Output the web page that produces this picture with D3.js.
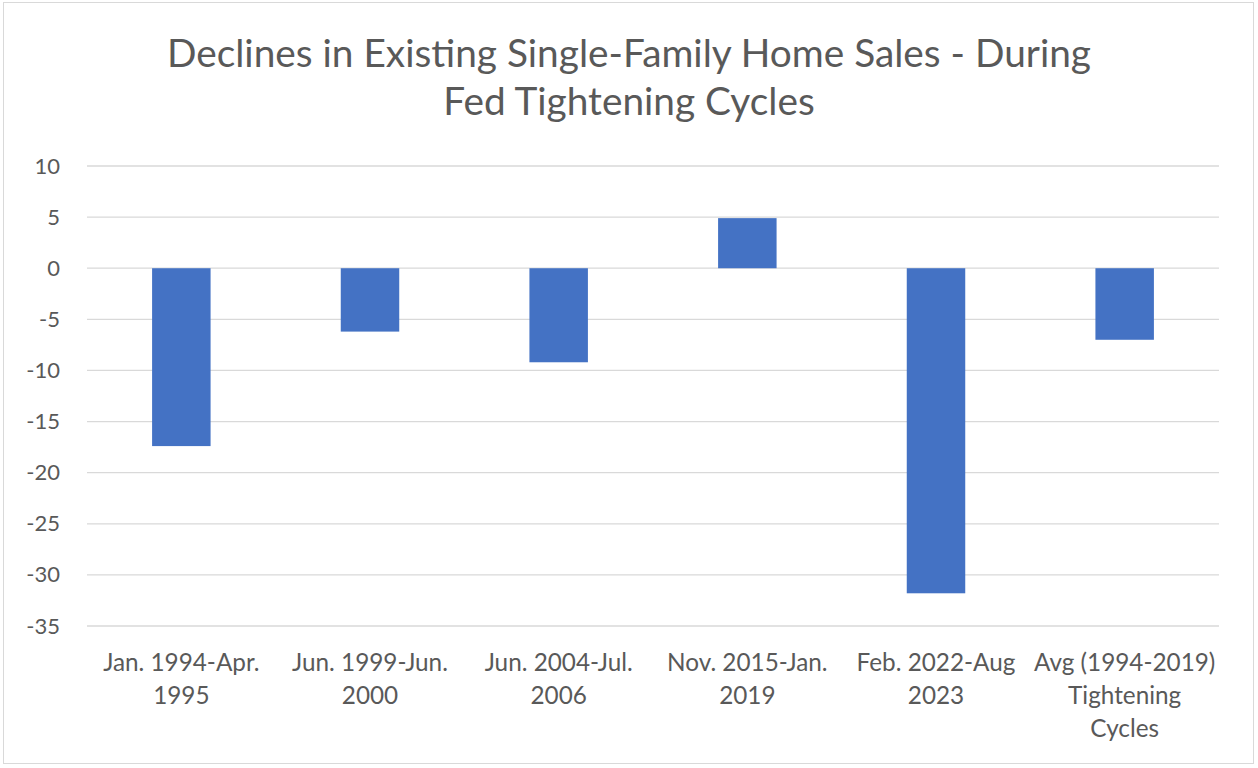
<!DOCTYPE html>
<html><head><meta charset="utf-8">
<script src="https://cdn.jsdelivr.net/npm/d3@7"></script>
<style>body{margin:0;background:#fff}svg{display:block}</style>
</head><body>
<script>
const categories = [["Jan. 1994-Apr.","1995"],["Jun. 1999-Jun.","2000"],["Jun. 2004-Jul.","2006"],["Nov. 2015-Jan.","2019"],["Feb. 2022-Aug","2023"],["Avg (1994-2019)","Tightening","Cycles"]];
const values = [-17.4, -6.2, -9.2, 4.9, -31.8, -7.0];
const yTicks = [10,5,0,-5,-10,-15,-20,-25,-30,-35];
const titleLines = ["Declines in Existing Single-Family Home Sales - During","Fed Tightening Cycles"];

const W=1258,H=768;
const font = "Lato, 'Open Sans', sans-serif";
const svg=d3.select("body").append("svg").attr("width",W).attr("height",H);
svg.append("rect").attr("x",3.5).attr("y",2.5).attr("width",1250).attr("height",761).attr("fill","#fff").attr("stroke","#d9d9d9");

const x=d3.scaleBand().domain(d3.range(categories.length)).range([87,1219]).paddingInner(0.69).paddingOuter(0.345);
const y=d3.scaleLinear().domain([-35,10]).range([626,166]);

svg.append("g").selectAll("line").data(yTicks).join("line")
 .attr("x1",87).attr("x2",1219).attr("y1",d=>y(d)).attr("y2",d=>y(d))
 .attr("stroke","#d9d9d9").attr("stroke-width",1.3);

const yAxis=svg.append("g").attr("transform","translate(87,0)").call(d3.axisLeft(y).tickValues(yTicks).tickSize(0).tickPadding(27).tickFormat(d=>String(d)));
yAxis.select(".domain").remove();
yAxis.selectAll("text").attr("font-family",font).attr("font-size",22).attr("fill","#595959");

svg.append("g").selectAll("rect").data(values).join("rect")
 .attr("x",(d,i)=>x(i)).attr("width",x.bandwidth())
 .attr("y",d=>y(Math.max(0,d))).attr("height",d=>Math.abs(y(d)-y(0)))
 .attr("fill","#4472c4");

const xl=svg.append("g");
categories.forEach((lines,i)=>{
  const t=xl.append("text").attr("text-anchor","middle").attr("font-family",font).attr("font-size",24.3).attr("fill","#595959");
  lines.forEach((l,j)=>t.append("tspan").attr("x",x(i)+x.bandwidth()/2).attr("y",671+j*33).text(l));
});

const tt=svg.append("text").attr("text-anchor","middle").attr("font-family",font).attr("font-size",38.8).attr("fill","#595959");
titleLines.forEach((l,j)=>tt.append("tspan").attr("x",629).attr("y",67+j*48).text(l));
</script>
</body></html>
